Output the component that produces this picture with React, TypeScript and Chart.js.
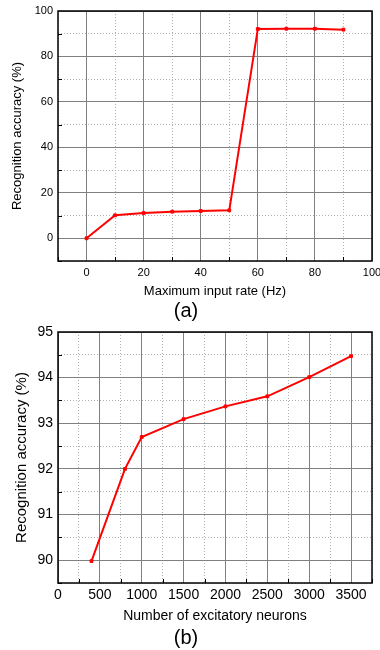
import React, { useEffect, useRef } from "react";
import { Chart, registerables } from "chart.js";

Chart.register(...registerables);

// ---- Data: panel (a)
const rateHz = [0, 10, 20, 30, 40, 50, 60, 70, 80, 90];
const accuracyA = [0, 10.1, 11.1, 11.7, 12.0, 12.3, 92.1, 92.2, 92.2, 91.8];
const xLabelsA = [0, 20, 40, 60, 80, 100];
const yLabelsA = [0, 20, 40, 60, 80, 100];

// ---- Data: panel (b)
const neurons = [400, 800, 1000, 1500, 2000, 2500, 3000, 3500];
const accuracyB = [89.98, 92.0, 92.7, 93.09, 93.37, 93.59, 94.01, 94.47];
const xLabelsB = [0, 500, 1000, 1500, 2000, 2500, 3000, 3500];
const yLabelsB = [90, 91, 92, 93, 94, 95];

const FONT = "'Liberation Sans', Arial, Helvetica, sans-serif";

const isOn = (v: number, list: number[]) => list.some((l) => Math.abs(l - v) < 1e-6);

const framePlugin = {
  id: "frame",
  afterDraw(chart: any) {
    const { ctx, chartArea: a, scales } = chart;
    const xs = scales.x;
    const ys = scales.y;
    const xl: number[] = chart.options.plugins.frame.xLabels;
    const yl: number[] = chart.options.plugins.frame.yLabels;
    ctx.save();
    ctx.strokeStyle = "#000";
    ctx.lineWidth = 1;
    ctx.beginPath();
    xs.ticks.forEach((t: any) => {
      if (isOn(t.value, xl)) return;
      const px = Math.round(xs.getPixelForValue(t.value)) + 0.5;
      ctx.moveTo(px, a.bottom);
      ctx.lineTo(px, a.bottom - 4);
    });
    ys.ticks.forEach((t: any) => {
      if (isOn(t.value, yl)) return;
      const py = Math.round(ys.getPixelForValue(t.value)) + 0.5;
      ctx.moveTo(a.left, py);
      ctx.lineTo(a.left + 4, py);
    });
    ctx.stroke();
    ctx.lineWidth = 1.5;
    ctx.strokeRect(a.left, a.top, a.right - a.left, a.bottom - a.top);
    ctx.restore();
  },
};

type PanelProps = {
  height: number;
  xs: number[];
  ys: number[];
  xMin: number;
  xMax: number;
  xStep: number;
  yMin: number;
  yMax: number;
  yStep: number;
  xLabels: number[];
  yLabels: number[];
  tickSize: number;
  xTitle: string;
  yTitle: string;
  xTitleSize: number;
  yTitleSize: number;
  yTitlePad: number;
  xTitlePad: number;
  xTickPad: number;
  label: string;
  padTop: number;
  xAxisHeight: number;
};

function Panel(p: PanelProps) {
  const ref = useRef<HTMLCanvasElement>(null);
  useEffect(() => {
    if (!ref.current) return;
    const gridColor = (labels: number[]) => (ctx: any) =>
      ctx.tick && isOn(ctx.tick.value, labels) ? "#808080" : "#b0b0b0";
    const gridDash = (labels: number[]) => (ctx: any) =>
      ctx.tick && isOn(ctx.tick.value, labels) ? [] : [1, 2];
    const chart = new Chart(ref.current, {
      type: "line",
      data: {
        datasets: [
          {
            data: p.xs.map((x, i) => ({ x, y: p.ys[i] })),
            borderColor: "#ff0000",
            backgroundColor: "#ff0000",
            borderWidth: 2,
            tension: 0,
            pointStyle: "rect",
            pointRadius: 2,
            pointBorderWidth: 1,
            pointBackgroundColor: "#ff0000",
            pointBorderColor: "#ff0000",
            clip: false,
          } as any,
        ],
      },
      options: {
        responsive: false,
        animation: false,
        events: [],
        layout: { padding: { top: p.padTop, right: 8, left: 0, bottom: 0 } },
        plugins: {
          legend: { display: false },
          tooltip: { enabled: false },
          title: {
            display: true,
            position: "bottom",
            text: p.label,
            color: "#000",
            font: { family: FONT, size: 20, weight: "normal" },
            padding: 0,
          },
          frame: { xLabels: p.xLabels, yLabels: p.yLabels },
        } as any,
        scales: {
          x: {
            type: "linear",
            min: p.xMin,
            max: p.xMax,
            ticks: {
              stepSize: p.xStep,
              autoSkip: false,
              maxRotation: 0,
              minRotation: 0,
              padding: p.xTickPad,
              color: "#000",
              font: { family: FONT, size: p.tickSize },
              callback: (v: any) => (isOn(Number(v), p.xLabels) ? String(Math.round(Number(v))) : ""),
            },
            grid: { color: gridColor(p.xLabels), lineWidth: 1, drawTicks: false },
            border: { display: false, dash: gridDash(p.xLabels) },
            title: {
              display: true,
              text: p.xTitle,
              color: "#000",
              font: { family: FONT, size: p.xTitleSize },
              padding: { top: 0, bottom: p.xTitlePad },
            },
            afterFit: (s: any) => {
              s.height = p.xAxisHeight;
              s.paddingLeft = 0;
              s.paddingRight = 0;
            },
          } as any,
          y: {
            type: "linear",
            min: p.yMin,
            max: p.yMax,
            ticks: {
              stepSize: p.yStep,
              autoSkip: false,
              padding: 5,
              color: "#000",
              font: { family: FONT, size: p.tickSize },
              callback: (v: any) => (isOn(Number(v), p.yLabels) ? String(Math.round(Number(v))) : ""),
            },
            grid: { color: gridColor(p.yLabels), lineWidth: 1, drawTicks: false },
            border: { display: false, dash: gridDash(p.yLabels) },
            title: {
              display: true,
              text: p.yTitle,
              color: "#000",
              font: { family: FONT, size: p.yTitleSize },
              padding: { top: p.yTitlePad, bottom: 0 },
            },
            afterFit: (s: any) => {
              s.width = 58;
              s.paddingTop = 0;
              s.paddingBottom = 0;
            },
          } as any,
        },
      },
      plugins: [framePlugin],
    });
    return () => chart.destroy();
  }, []);
  return <canvas ref={ref} width={380} height={p.height} style={{ display: "block" }} />;
}

export default function App() {
  return (
    <div style={{ position: "absolute", left: 0, top: 0, width: 380, height: 650, background: "#fff" }}>
      <Panel
        height={323}
        xs={rateHz}
        ys={accuracyA}
        xMin={-10}
        xMax={100}
        xStep={10}
        yMin={-10}
        yMax={100}
        yStep={10}
        xLabels={xLabelsA}
        yLabels={yLabelsA}
        tickSize={11}
        xTitle="Maximum input rate (Hz)"
        yTitle="Recognition accuracy (%)"
        xTitleSize={13}
        yTitleSize={13}
        yTitlePad={10}
        xTitlePad={0}
        xTickPad={5}
        label="(a)"
        padTop={11}
        xAxisHeight={38}
      />
      <Panel
        height={327}
        xs={neurons}
        ys={accuracyB}
        xMin={0}
        xMax={3750}
        xStep={250}
        yMin={89.5}
        yMax={95}
        yStep={0.5}
        xLabels={xLabelsB}
        yLabels={yLabelsB}
        tickSize={14}
        xTitle="Number of excitatory neurons"
        yTitle="Recognition accuracy (%)"
        xTitleSize={14}
        yTitleSize={15}
        yTitlePad={13}
        xTitlePad={1}
        xTickPad={4}
        label="(b)"
        padTop={9}
        xAxisHeight={43}
      />
    </div>
  );
}
